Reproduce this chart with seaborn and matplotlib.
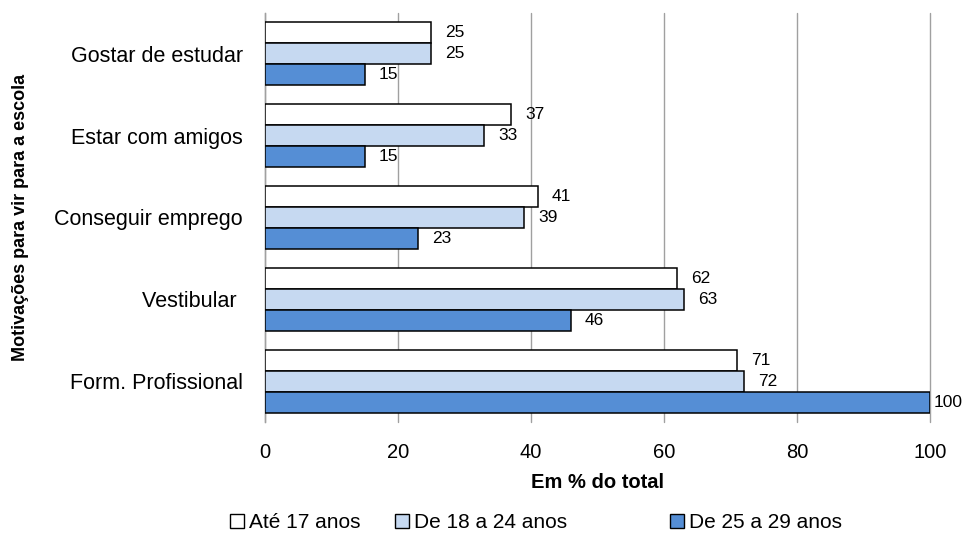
import matplotlib
matplotlib.use("Agg")
import matplotlib.pyplot as plt
from matplotlib.patches import Patch
import seaborn as sns
import pandas as pd

categorias = ["Gostar de estudar", "Estar com amigos", "Conseguir emprego",
              "Vestibular ", "Form. Profissional"]
grupos = ["Até 17 anos", "De 18 a 24 anos", "De 25 a 29 anos"]
ate_17 = [25, 37, 41, 62, 71]
de_18_24 = [25, 33, 39, 63, 72]
de_25_29 = [15, 15, 23, 46, 100]
x_ticks = [0, 20, 40, 60, 80, 100]

cores = ["#FFFFFF", "#C6D9F1", "#558ED5"]

df = pd.DataFrame({
    "categoria": categorias * 3,
    "grupo": [g for g in grupos for _ in categorias],
    "valor": ate_17 + de_18_24 + de_25_29,
})

sns.set_style("white")
plt.rcParams["font.family"] = ["Liberation Sans", "DejaVu Sans"]
plt.rcParams["text.color"] = "black"
plt.rcParams["axes.labelcolor"] = "black"
plt.rcParams["xtick.labelcolor"] = "black"
plt.rcParams["ytick.labelcolor"] = "black"

fig = plt.figure(figsize=(9.68, 5.4), dpi=100)
ax = fig.add_axes([0.2738, 0.2185, 0.6869, 0.7575])

sns.barplot(data=df, y="categoria", x="valor", hue="grupo", order=categorias,
            hue_order=grupos, palette=cores, saturation=1, edgecolor="black",
            linewidth=1.1, width=0.77, orient="h", dodge=True, legend=False,
            ax=ax, zorder=3)

for cont in ax.containers:
    rotulos = ax.bar_label(cont, fmt="%g", padding=10, fontsize=12.5,
                           color="black")
    # keep the label of a full-width bar inside the figure
    for ret, r in zip(cont.patches, rotulos):
        if ret.get_width() >= 100:
            r.xyann = (3, r.xyann[1])

ax.set_xlim(0, 100)
ax.set_ylim(4.5, -0.5)
ax.set_xticks(x_ticks)
ax.set_xticklabels([str(t) for t in x_ticks], fontsize=14.5)
ax.tick_params(axis="y", which="major", length=0, labelsize=15.5, pad=16)
ax.set_yticks([i - 0.5 for i in range(len(categorias) + 1)], minor=True)
ax.tick_params(axis="y", which="minor", length=5, color="#A0A0A0", width=1)
ax.tick_params(axis="x", length=5, color="#A0A0A0", width=1, pad=10)

ax.grid(axis="x", color="#A0A0A0", linewidth=1, zorder=0)
for gl in ax.get_xgridlines():
    gl.set_clip_on(False)
ax.set_axisbelow(True)
for s in ["top", "right", "bottom"]:
    ax.spines[s].set_visible(False)
ax.spines["left"].set_color("#A0A0A0")
ax.spines["left"].set_linewidth(1)

ax.set_xlabel("Em % do total", fontsize=14.5, fontweight="bold", labelpad=8)
ax.set_ylabel("Motivações para vir para a escola", fontsize=13,
              fontweight="bold")
ax.yaxis.set_label_coords(-0.355, 0.5)

posicoes = [230, 395, 670]
for cor, nome, px in zip(cores, grupos, posicoes):
    fig.legend([Patch(facecolor=cor, edgecolor="black", linewidth=1)], [nome],
               loc="center left", bbox_to_anchor=(px / 968, 0.032),
               frameon=False, fontsize=15, handlelength=0.65,
               handleheight=0.65, handletextpad=0.25, borderpad=0,
               borderaxespad=0)

fig.savefig("out.png", dpi=100)
